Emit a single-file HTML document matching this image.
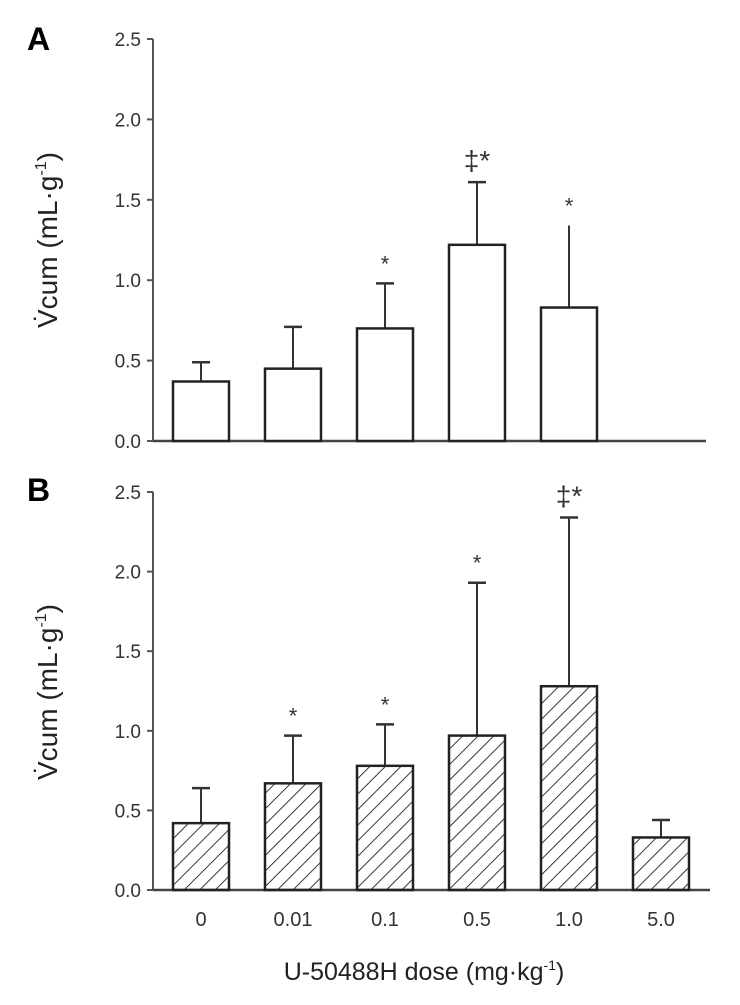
<!DOCTYPE html>
<html><head><meta charset="utf-8"><style>
body{margin:0;background:#fff;}
svg text{font-family:"Liberation Sans",sans-serif;}
</style></head><body>
<svg id="chart" width="740" height="1000" xmlns="http://www.w3.org/2000/svg">
<defs>
<pattern id="hatch" patternUnits="userSpaceOnUse" width="11" height="11" patternTransform="rotate(45)">
<line x1="0" y1="0" x2="0" y2="11" stroke="#222" stroke-width="1.8"/>
</pattern>
</defs>
<text x="27" y="50" font-size="32" font-weight="bold">A</text>
<text x="27" y="501" font-size="32" font-weight="bold">B</text>
<text transform="translate(57,240) rotate(-90)" text-anchor="middle" font-size="28" fill="#222">V̇cum (mL·g<tspan dy="-11" font-size="16">-1</tspan><tspan dy="11">)</tspan></text>
<text transform="translate(57,692) rotate(-90)" text-anchor="middle" font-size="28" fill="#222">V̇cum (mL·g<tspan dy="-11" font-size="16">-1</tspan><tspan dy="11">)</tspan></text>
<text x="424" y="980" text-anchor="middle" font-size="25" fill="#222">U-50488H dose (mg·kg<tspan dy="-10" font-size="14">-1</tspan><tspan dy="10">)</tspan></text>
<g id="plots"></g>
</svg>
<script>
const categories = ["0","0.01","0.1","0.5","1.0","5.0"];
const valuesA = [0.37,0.45,0.70,1.22,0.83];
const errorsA = [0.49,0.71,0.98,1.61,1.34];
const marksA = ["","","*","‡*","*"];
const valuesB = [0.42,0.67,0.78,0.97,1.28,0.33];
const errorsB = [0.64,0.97,1.04,1.93,2.34,0.44];
const marksB = ["","*","*","*","‡*",""];
const yTicks = [0,0.5,1.0,1.5,2.0,2.5];
const yTickLabels = ["0.0","0.5","1.0","1.5","2.0","2.5"];

const NS="http://www.w3.org/2000/svg";
const g=document.getElementById('plots');
function mk(tag,attrs,parent){const e=document.createElementNS(NS,tag);for(const k in attrs)e.setAttribute(k,attrs[k]);(parent||g).appendChild(e);return e;}
function xScale(i){return 201+i*92;}
function panel(key,y0,yTop,xEnd,vals,errs,marks,hatched,showX,noCap){
  const yS=v=>y0-(y0-yTop)*v/2.5;
  const ax=mk('line',{x1:153,y1:yTop,x2:153,y2:y0,stroke:'#555','stroke-width':2});
  
  
  const xl=mk('line',{x1:153,y1:y0,x2:xEnd,y2:y0,stroke:'#444','stroke-width':2.5});
  
  
  yTicks.forEach((t,i)=>{
    const tk=mk('line',{x1:147,y1:yS(t),x2:153,y2:yS(t),stroke:'#555','stroke-width':2});
    
    
    const tl=mk('text',{x:141,y:yS(t)+7,'text-anchor':'end','font-size':19,fill:'#333'});
    tl.textContent=yTickLabels[i];
    
    
  });
  vals.forEach((v,i)=>{
    const cx=xScale(i),w=56;
    const ey=yS(errs[i]);
    const el=mk('line',{x1:cx,y1:yS(v),x2:cx,y2:ey,stroke:'#333','stroke-width':2});
    
    
    if(i!==noCap){
      const cap=mk('line',{x1:cx-9,y1:ey,x2:cx+9,y2:ey,stroke:'#333','stroke-width':2.5});
      
      
    }
    const r=mk('rect',{x:cx-w/2,y:yS(v),width:w,height:y0-yS(v),fill:hatched?'url(#hatch)':'#fff',stroke:'#222','stroke-width':2.5});
    
    
    if(marks[i]){
      const m=mk('text',{x:cx,y:ey-12,'text-anchor':'middle','font-size':marks[i].length>1?28:22,fill:'#333'});
      m.textContent=marks[i];
      
      
    }
  });
  if(showX){
    categories.forEach((c,i)=>{
      const t=mk('text',{x:xScale(i),y:y0+36,'text-anchor':'middle','font-size':20,fill:'#333'});
      t.textContent=c;
      
      
    });
  }
}
panel('a',441,39,706,valuesA,errorsA,marksA,false,false,4);
panel('b',890,492,710,valuesB,errorsB,marksB,true,true,-1);
</script>
</body></html>
